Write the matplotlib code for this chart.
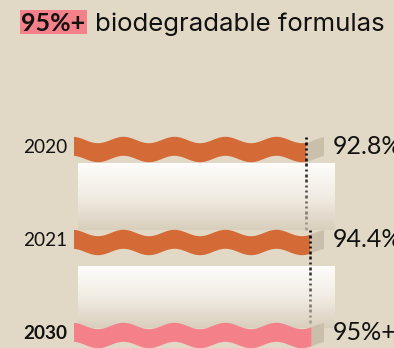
import numpy as np
import matplotlib
matplotlib.use("Agg")
import matplotlib.pyplot as plt
from matplotlib.patches import Rectangle
from matplotlib.collections import LineCollection
from matplotlib.colors import LinearSegmentedColormap, to_rgb

# Data
years = ["2020", "2021", "2030"]
shares = [92.8, 94.4, 95.0]
value_labels = ["92.8%", "94.4%", "95%+"]
bar_colors = ["#d46b36", "#d46b36", "#f4808a"]
year_bold = [False, False, True]

BG = "#e2d8c6"
TAIL = "#c9bfaa"
FONT = "Lato"
TITLE_FONT = "Inter"

W, H = 394, 348
fig = plt.figure(figsize=(W / 100, H / 100), dpi=100, facecolor=BG)
ax = fig.add_axes([0, 0, 1, 1])
ax.set_facecolor(BG)
ax.axis("off")

# percent axis: 0% at px 73.5, 2.5 px per percent; rows 93 px apart, first at px 149
x0_px, px_per_pct = 73.5, 2.5
row0_px, px_per_row = 149.0, 93.0
ax.set_xlim((0 - x0_px) / px_per_pct, (W - x0_px) / px_per_pct)
ax.set_ylim((H - row0_px) / px_per_row, (0 - row0_px) / px_per_row)

band = 19.0 / px_per_row
amp = 3.2 / px_per_row
period = 20.4
crest = -0.6


def wave_band(ax, xa, xb, row, color, z):
    x = np.linspace(xa, xb, 400)
    c = row - amp * np.cos(2 * np.pi * (x - crest) / period)
    ax.fill_between(x, c - band / 2, c + band / 2, color=color, lw=0, zorder=z)


# gradient plinths between rows
grad = LinearSegmentedColormap.from_list("plinth", ["#fefdfb", "#f1ece3", "#d9cebc"])
plinths = [(0.155, 0.87), (1.27, 1.93)]
for top, bot in plinths:
    img = np.linspace(0, 1, 256).reshape(-1, 1)
    ax.imshow(img, cmap=grad, aspect="auto", interpolation="bilinear",
              extent=((78 - x0_px) / px_per_pct, (335 - x0_px) / px_per_pct, bot, top),
              zorder=1)

for i, (yr, v, lab, col, bold) in enumerate(zip(years, shares, value_labels, bar_colors, year_bold)):
    wave_band(ax, v, 100, i, TAIL, 2)
    wave_band(ax, 0, v, i, col, 3)
    ax.text(-2.6, i - 0.02, yr, ha="right", va="center", fontsize=13.7,
            fontfamily=FONT, fontweight="bold" if bold else "normal", color="#111111", zorder=5)
    ax.text(103.8, i - 0.03, lab, ha="left", va="center", fontsize=18,
            fontfamily=FONT, color="#111111", zorder=5)

# dotted leaders from each bar end down to the next row
dot_len = 2.5 / px_per_row
dot_step = 5.3 / px_per_row
c_top = np.array(to_rgb("#000000"))
c_bot = np.array(to_rgb("#a39c91"))
for i in range(len(shares) - 1):
    v = shares[i]
    ys = np.arange(i - 0.13, i + 0.86, dot_step)
    segs = [[(v, y), (v, y + dot_len)] for y in ys]
    t = np.linspace(0, 1, len(ys)) ** 1.3
    cols = [tuple(c_top * (1 - k) + c_bot * k) for k in t]
    ax.add_collection(LineCollection(segs, colors=cols, linewidths=1.9,
                                     capstyle="butt", zorder=4))

# title with highlighted figure
fig.add_artist(Rectangle((20 / W, 1 - 34 / H), 67 / W, 24 / H,
                         transform=fig.transFigure, color="#f4808a", lw=0))
base = 1 - 30.7 / H
fig.text(21.5 / W, base, "95%+", ha="left", va="baseline", fontsize=18,
         fontweight="bold", fontfamily=FONT, color="#111111")
fig.text(95 / W, base, "biodegradable formulas", ha="left", va="baseline",
         fontsize=18.6, fontfamily=TITLE_FONT, color="#111111")

fig.savefig("out.png", dpi=100, facecolor=BG)
